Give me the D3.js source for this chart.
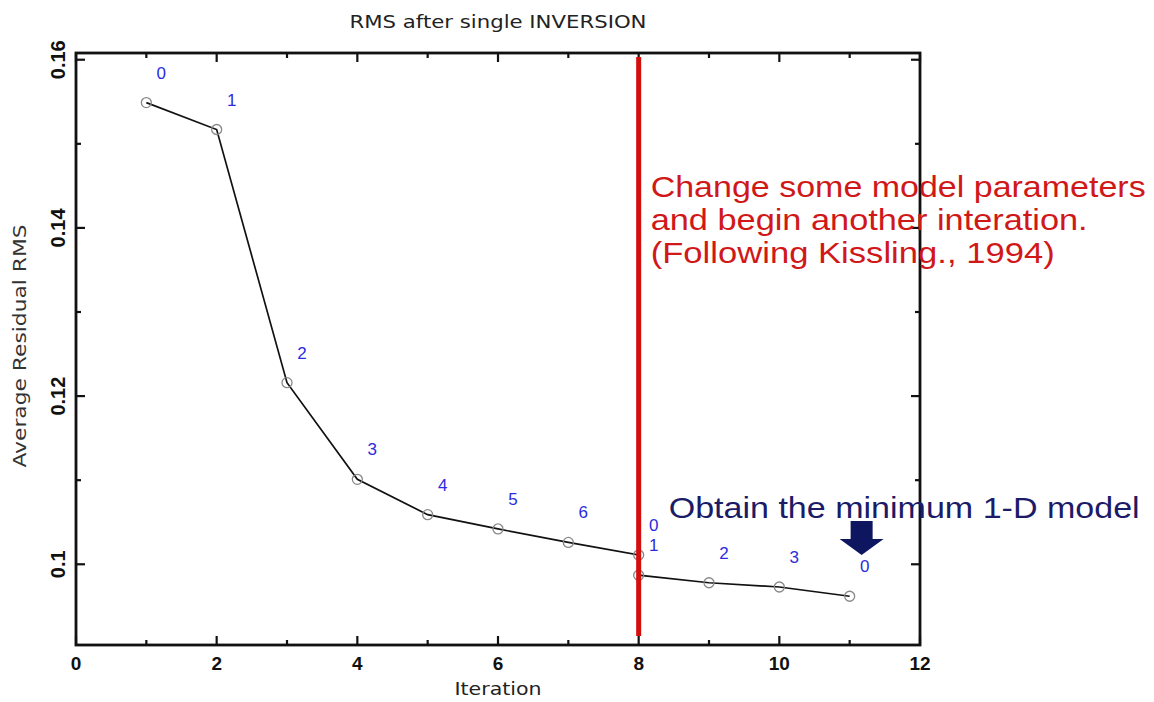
<!DOCTYPE html>
<html>
<head>
<meta charset="utf-8">
<script src="https://cdn.jsdelivr.net/npm/d3@7"></script>
<style>
  body { margin: 0; background: #fff; }
  svg { display: block; }
</style>
</head>
<body>
<div id="chart"></div>
<script>
// iteration number and average RMS
const iterX = [1, 2, 3, 4, 5, 6, 7, 8, 8, 9, 10, 11];
const rms = [0.1549, 0.1517, 0.1216, 0.1101, 0.1059, 0.1042, 0.1026, 0.1011, 0.0987, 0.0978, 0.0973, 0.0962];
const pointLabels = ["0", "1", "2", "3", "4", "5", "6", "0", "1", "2", "3", "0"];
const xTicks = [0, 2, 4, 6, 8, 10, 12];
const yTicks = [0.1, 0.12, 0.14, 0.16];
const redNote = ["Change some model parameters", "and begin another interation.", "(Following Kissling., 1994)"];
const blueNote = "Obtain the minimum 1-D model";

const width = 1154, height = 702;
const margin = { top: 53, right: 234, bottom: 57, left: 76 };

const svg = d3.select("#chart").append("svg")
    .attr("width", width)
    .attr("height", height);

const x = d3.scaleLinear().domain([0, 12]).range([margin.left, width - margin.right]);
const y = d3.scaleLinear().domain([0.0904, 0.1608]).range([height - margin.bottom, margin.top]);

const x0 = x.range()[0], x1 = x.range()[1];
const y0 = y.range()[0], y1 = y.range()[1];

// ticks, pointing inward on all four sides
const xMinor = d3.range(0, 13, 1);
const yMinor = d3.range(0.1, 0.165, 0.01);
const ticksG = svg.append("g").attr("stroke", "#111").attr("stroke-width", 2.2);
xMinor.forEach(v => {
    const len = xTicks.includes(v) ? 9 : 5;
    ticksG.append("line").attr("x1", x(v)).attr("x2", x(v)).attr("y1", y0).attr("y2", y0 - len);
    ticksG.append("line").attr("x1", x(v)).attr("x2", x(v)).attr("y1", y1).attr("y2", y1 + len);
});
yMinor.forEach(v => {
    const major = yTicks.some(t => Math.abs(t - v) < 1e-6);
    const len = major ? 9 : 5;
    ticksG.append("line").attr("x1", x0).attr("x2", x0 + len).attr("y1", y(v)).attr("y2", y(v));
    ticksG.append("line").attr("x1", x1).attr("x2", x1 - len).attr("y1", y(v)).attr("y2", y(v));
});

// frame
svg.append("rect")
    .attr("x", x0).attr("y", y1)
    .attr("width", x1 - x0).attr("height", y0 - y1)
    .attr("fill", "none").attr("stroke", "#111").attr("stroke-width", 2.8);

// tick labels
svg.append("g").selectAll("text")
    .data(xTicks)
    .join("text")
    .attr("x", d => x(d))
    .attr("y", y0 + 25)
    .attr("text-anchor", "middle")
    .attr("font-family", "Liberation Sans, Arial, sans-serif")
    .attr("font-weight", "bold")
    .attr("font-size", 19)
    .attr("fill", "#111")
    .text(d => d);

svg.append("g").selectAll("text")
    .data(yTicks)
    .join("text")
    .attr("transform", d => `translate(${x0 - 11},${y(d)}) rotate(-90)`)
    .attr("text-anchor", "middle")
    .attr("font-family", "Liberation Sans, Arial, sans-serif")
    .attr("font-weight", "bold")
    .attr("font-size", 20)
    .attr("fill", "#111")
    .text(d => d3.format("~g")(d));

// title and axis labels
svg.append("text")
    .attr("x", (x0 + x1) / 2)
    .attr("y", 28)
    .attr("text-anchor", "middle")
    .attr("font-family", "DejaVu Sans, sans-serif")
    .attr("font-size", 17)
    .attr("fill", "#222")
    .attr("textLength", 297)
    .attr("lengthAdjust", "spacingAndGlyphs")
    .text("RMS after single INVERSION");

svg.append("text")
    .attr("x", 498)
    .attr("y", 695)
    .attr("text-anchor", "middle")
    .attr("font-family", "DejaVu Sans, sans-serif")
    .attr("font-size", 18)
    .attr("fill", "#222")
    .attr("textLength", 87)
    .attr("lengthAdjust", "spacingAndGlyphs")
    .text("Iteration");

svg.append("text")
    .attr("transform", "translate(26,346) rotate(-90)")
    .attr("text-anchor", "middle")
    .attr("font-family", "DejaVu Sans, sans-serif")
    .attr("font-size", 17)
    .attr("fill", "#333")
    .attr("textLength", 243)
    .attr("lengthAdjust", "spacingAndGlyphs")
    .text("Average Residual RMS");

// data line
const pts = iterX.map((d, i) => ({ x: d, y: rms[i], label: pointLabels[i] }));
svg.append("path")
    .datum(pts)
    .attr("fill", "none")
    .attr("stroke", "#111")
    .attr("stroke-width", 1.7)
    .attr("d", d3.line().x(d => x(d.x)).y(d => y(d.y)));

svg.append("g").selectAll("circle")
    .data(pts)
    .join("circle")
    .attr("cx", d => x(d.x))
    .attr("cy", d => y(d.y))
    .attr("r", 5)
    .attr("fill", "none")
    .attr("stroke", "#888")
    .attr("stroke-width", 1.3);

svg.append("g").selectAll("text")
    .data(pts)
    .join("text")
    .attr("x", d => x(d.x) + 15)
    .attr("y", d => y(d.y) - 24)
    .attr("text-anchor", "middle")
    .attr("font-family", "Liberation Sans, Arial, sans-serif")
    .attr("font-size", 17)
    .attr("fill", "#2b2be0")
    .text(d => d.label);

// red divider at iteration 8
svg.append("line")
    .attr("x1", x(8)).attr("x2", x(8))
    .attr("y1", y1 + 4).attr("y2", y0 - 9)
    .attr("stroke", "#d40d0d")
    .attr("stroke-width", 5);

// red note
const redLens = [495, 437, 404];
svg.append("g").selectAll("text")
    .data(redNote)
    .join("text")
    .attr("x", x(8) + 12)
    .attr("y", (d, i) => 197 + i * 33)
    .attr("font-family", "Liberation Sans, Arial, sans-serif")
    .attr("font-size", 30)
    .attr("fill", "#d01818")
    .attr("textLength", (d, i) => redLens[i])
    .attr("lengthAdjust", "spacingAndGlyphs")
    .text(d => d);

// blue note and arrow
svg.append("text")
    .attr("x", x(8) + 30)
    .attr("y", 518)
    .attr("font-family", "Liberation Sans, Arial, sans-serif")
    .attr("font-size", 29)
    .attr("fill", "#1b1b68")
    .attr("textLength", 471)
    .attr("lengthAdjust", "spacingAndGlyphs")
    .text(blueNote);

const ax = x(11.17), aTop = 521, aTip = 555;
svg.append("path")
    .attr("d", `M${ax - 11},${aTop} L${ax + 11},${aTop} L${ax + 11},${aTop + 18} L${ax + 22},${aTop + 18}
               L${ax},${aTip} L${ax - 22},${aTop + 18} L${ax - 11},${aTop + 18} Z`)
    .attr("fill", "#0e1660");
</script>
</body>
</html>
